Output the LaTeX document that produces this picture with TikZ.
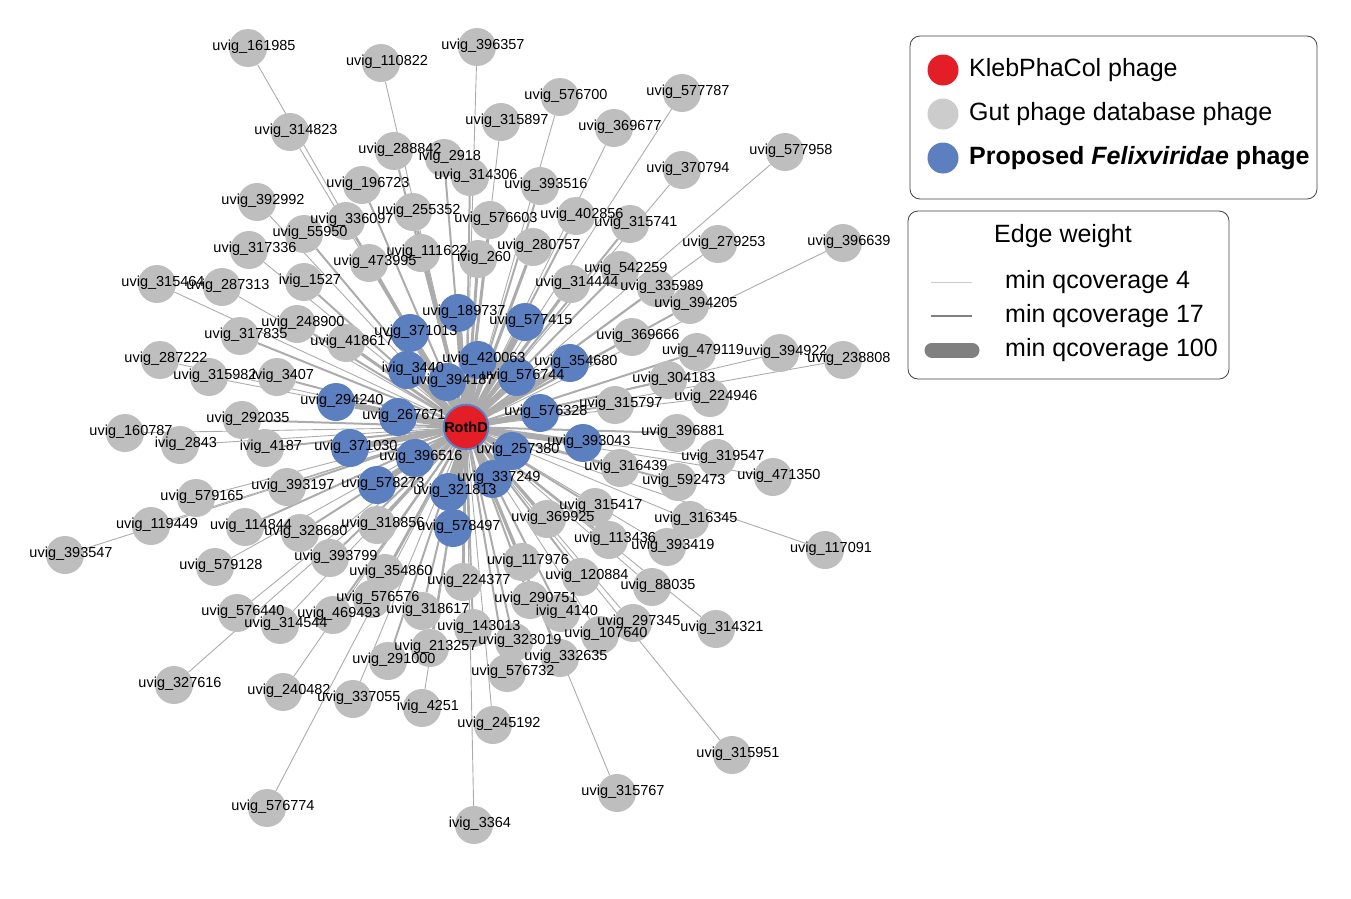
\documentclass[tikz,border=0pt]{standalone}
\usepackage{fontspec}
\setmainfont{Liberation Sans}
\usetikzlibrary{backgrounds}

\definecolor{phagered}{RGB}{228,30,38}
\definecolor{gutgray}{RGB}{190,190,190}
\definecolor{keygray}{RGB}{204,204,204}
\definecolor{felixblue}{RGB}{91,127,191}
\definecolor{edgegray}{RGB}{172,172,172}

\tikzset{
  gutphage/.style={circle, fill=gutgray, minimum size=38pt, inner sep=0pt},
  felixphage/.style={circle, fill=felixblue, minimum size=38pt, inner sep=0pt},
  tag/.style={font=\fontsize{14.5}{16}\selectfont, inner sep=0pt, xshift=6pt, yshift=1.5pt},
  simlink/.style={draw=edgegray},
  keydot/.style={circle, minimum size=31pt, inner sep=0pt},
  keytext/.style={font=\fontsize{25}{30}\selectfont, anchor=west, inner sep=0pt},
  keyframe/.style={draw=black!75, line width=0.8pt, rounded corners=10pt},
}

% gut phage database hits: id/prefix/x/y/edge width
\def\gutphages{161985/uvig/248/48/0.9, 110822/uvig/381/63/0.9, 396357/uvig/477/47/0.9,
  576700/uvig/560/97/0.9, 577787/uvig/682/93/0.9, 315897/uvig/501/122/0.9,
  369677/uvig/614/128/0.9, 314823/uvig/290/132/0.9, 288842/uvig/394/151/2,
  2918/ivig/444/158/2, 314306/uvig/470/177/2, 196723/uvig/362/185/2,
  393516/uvig/540/186/2, 255352/uvig/413/212/3, 336097/uvig/346/221/2,
  576603/uvig/490/220/3, 402856/uvig/576/216/2, 111622/uvig/421/253/3,
  473995/uvig/369/263/3, 280757/uvig/533/247/3, 260/ivig/478/259/3,
  314444/uvig/571/284/3, 315741/uvig/630/224/2, 370794/uvig/682/170/0.9,
  577958/uvig/785/152/0.9, 279253/uvig/718/244/0.9, 396639/uvig/843/243/0.9,
  542259/uvig/620/270/2, 335989/uvig/656/288/2, 55950/uvig/304/234/2,
  392992/uvig/257/202/0.9, 317336/uvig/249/250/0.9, 315464/uvig/157/284/0.9,
  287313/uvig/222/287/0.9, 1527/ivig/304/282/2, 248900/uvig/297/324/2,
  317835/uvig/240/336/2, 418617/uvig/346/343/3, 287222/uvig/160/360/0.9,
  315982/uvig/209/377/0.9, 3407/ivig/277/377/2, 292035/uvig/242/420/2,
  160787/uvig/125/433/0.9, 2843/ivig/180/445/0.9, 4187/ivig/265/448/2,
  393197/uvig/287/487/2, 579165/uvig/196/498/0.9, 119449/uvig/151/526/0.9,
  114844/uvig/245/527/2, 328680/uvig/300/533/2, 393547/uvig/65/555/0.9,
  318856/uvig/377/525/3, 369925/uvig/547/519/3, 393799/uvig/330/558/2,
  354860/uvig/385/573/2, 224377/uvig/463/582/3, 117976/uvig/522/562/3,
  120884/uvig/581/577/2, 576576/uvig/372/599/2, 469493/uvig/333/615/2,
  318617/uvig/422/611/2, 290751/uvig/530/600/2, 4140/ivig/561/613/2,
  143013/uvig/473/628/2, 213257/uvig/430/648/2, 323019/uvig/514/642/2,
  291000/uvig/388/661/2, 332635/uvig/560/658/2, 576732/uvig/507/673/2,
  337055/uvig/353/699/0.9, 4251/ivig/422/708/0.9, 245192/uvig/493/725/0.9,
  3364/ivig/474/825/0.9, 576440/uvig/237/613/0.9, 314544/uvig/280/625/0.9,
  327616/uvig/174/685/0.9, 240482/uvig/283/692/0.9, 576774/uvig/267/808/0.9,
  579128/uvig/215/567/0.9, 88035/uvig/652/587/0.9, 297345/uvig/633/623/0.9,
  107640/uvig/600/635/0.9, 314321/uvig/716/629/0.9, 315951/uvig/732/755/0.9,
  315767/uvig/617/793/0.9, 113436/uvig/609/540/2, 393419/uvig/667/547/0.9,
  117091/uvig/825/550/0.9, 316345/uvig/690/520/0.9, 315417/uvig/595/507/2,
  592473/uvig/678/482/2, 316439/uvig/620/468/2, 319547/uvig/717/458/0.9,
  471350/uvig/773/477/0.9, 396881/uvig/677/433/2, 315797/uvig/615/405/2,
  224946/uvig/710/398/0.9, 304183/uvig/668/380/2, 369666/uvig/632/337/2,
  479119/uvig/697/352/2, 394922/uvig/780/353/0.9, 238808/uvig/843/360/0.9,
  394205/uvig/690/305/2}

% proposed Felixviridae members: id/prefix/x/y
\def\felixphages{189737/uvig/458/313, 577415/uvig/525/322, 371013/uvig/410/333,
  420063/uvig/478/360, 354680/uvig/570/363, 3440/ivig/407/370,
  394187/uvig/447/382, 576744/uvig/517/377, 294240/uvig/336/402,
  267671/uvig/398/417, 576328/uvig/540/413, 371030/uvig/350/448,
  257380/uvig/512/451, 393043/uvig/583/443, 396516/uvig/415/458,
  578273/uvig/377/485, 321813/uvig/449/492, 337249/uvig/493/479,
  578497/uvig/453/528}

\begin{document}
\begin{tikzpicture}[x=1pt, y=-1pt]
  \useasboundingbox (0,0) rectangle (1351,898);

  % Network nodes
  \foreach \id/\pre/\x/\y/\w in \gutphages
    \node[gutphage] (\pre\id) at (\x,\y) {};
  \foreach \id/\pre/\x/\y in \felixphages
    \node[felixphage] (\pre\id) at (\x,\y) {};
  \node[circle, fill=phagered, draw=felixblue, line width=2pt, minimum size=40pt,
    inner sep=0pt, font=\fontsize{14.5}{16}\selectfont\bfseries] (rothd) at (466,427) {RothD};

  % Similarity edges
  \begin{scope}[on background layer]
    \foreach \id/\pre/\x/\y/\w in \gutphages
      \draw[simlink, line width=\w pt] (rothd) -- (\pre\id);
    \foreach \id/\pre/\x/\y in \felixphages
      \draw[simlink, line width=6pt] (rothd) -- (\pre\id);
  \end{scope}

  % Labels
  \foreach \id/\pre/\x/\y/\w in \gutphages
    \node[tag] at (\pre\id) {\pre\_\id};
  \foreach \id/\pre/\x/\y in \felixphages
    \node[tag] at (\pre\id) {\pre\_\id};

  % Node colour legend
  \draw[keyframe] (910,36) rectangle (1317,199);
  \node[keydot, fill=phagered] (keyred) at (943,70) {};
  \node[keydot, fill=keygray] (keygut) at (943,114) {};
  \node[keydot, fill=felixblue] (keyfelix) at (943,158) {};
  \node[keytext] at (969,70) {KlebPhaCol phage};
  \node[keytext] at (969,114) {Gut phage database phage};
  \node[keytext] at (969,158) {\bfseries Proposed \textit{Felixviridae} phage};

  % Edge weight legend
  \draw[keyframe] (908,211) rectangle (1229,379);
  \node[font=\fontsize{25}{30}\selectfont, inner sep=0pt] (weighttitle) at (1063,236) {Edge weight};
  \draw[draw=keygray, line width=1pt] (931,282) -- (972,282);
  \draw[draw=black!50, line width=2.5pt] (931,316) -- (972,316);
  \draw[draw=black!50, line width=15pt, line cap=round] (932,350) -- (972,350);
  \node[keytext] at (1005,282) {min qcoverage 4};
  \node[keytext] at (1005,316) {min qcoverage 17};
  \node[keytext] at (1005,350) {min qcoverage 100};
\end{tikzpicture}
\end{document}
